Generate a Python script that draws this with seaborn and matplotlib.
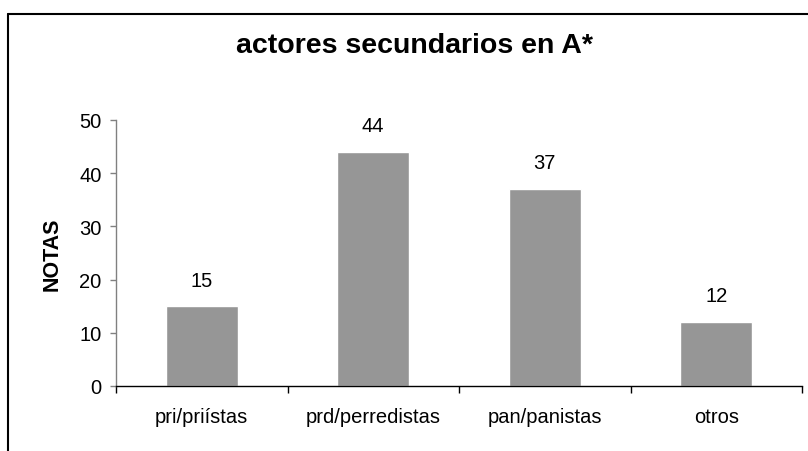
import matplotlib
matplotlib.use("Agg")
import matplotlib.pyplot as plt
import seaborn as sns
import pandas as pd
from matplotlib.lines import Line2D
from matplotlib.ticker import FixedLocator

# datos del gráfico
categorias = ["pri/priístas", "prd/perredistas", "pan/panistas", "otros"]
notas = [15, 44, 37, 12]

df = pd.DataFrame({"categoria": categorias, "notas": notas})

sns.set_style("white")
plt.rcParams["font.family"] = ["Liberation Sans", "DejaVu Sans"]
plt.rcParams["text.color"] = "black"
plt.rcParams["xtick.color"] = "black"
plt.rcParams["ytick.color"] = "black"
plt.rcParams["axes.labelcolor"] = "black"

fig = plt.figure(figsize=(8.08, 4.52), dpi=100)
ax = fig.add_axes([116 / 808, 1 - 387 / 452, (802 - 116) / 808, (387 - 121) / 452])

sns.barplot(data=df, x="categoria", y="notas", color="#969696", width=0.42,
            saturation=1, ax=ax)

# etiquetas de valor sobre cada barra
for i, v in enumerate(notas):
    ax.annotate(str(v), (i, v), xytext=(0, 12), textcoords="offset points",
                ha="center", va="bottom", fontsize=14.5)

ax.set_xlim(-0.5, len(categorias) - 0.5)
ax.set_ylim(0, 50)
ax.set_yticks([0, 10, 20, 30, 40, 50])
ax.tick_params(axis="y", labelsize=14.5, length=4.5, width=1, color="#808080",
               labelcolor="black", pad=6, direction="out", left=True)
ax.tick_params(axis="x", which="major", labelsize=14.5, length=0, pad=15)
ax.xaxis.set_minor_locator(FixedLocator([i - 0.5 for i in range(len(categorias) + 1)]))
ax.tick_params(axis="x", which="minor", length=5, width=1, color="black",
               direction="out", bottom=True)

ax.set_xlabel("")
ax.set_ylabel("NOTAS", fontsize=15.5, fontweight="bold", labelpad=12)

for s in ["top", "right"]:
    ax.spines[s].set_visible(False)
ax.spines["left"].set_color("#808080")
ax.spines["left"].set_linewidth(1)
ax.spines["bottom"].set_color("black")
ax.spines["bottom"].set_linewidth(1)

fig.text(414 / 808, 1 - 46 / 452, "actores secundarios en A*", ha="center",
         va="center", fontsize=20.5, fontweight="bold")

# marco del área del gráfico (recortado a la derecha y abajo)
fig.add_artist(Line2D([8 / 808, 1.0], [1 - 15 / 452, 1 - 15 / 452],
                      transform=fig.transFigure, color="black", lw=1.5))
fig.add_artist(Line2D([8 / 808, 8 / 808], [1 - 15 / 452, 0.0],
                      transform=fig.transFigure, color="black", lw=1.5))

fig.savefig("out.png", dpi=100)
plt.close(fig)
